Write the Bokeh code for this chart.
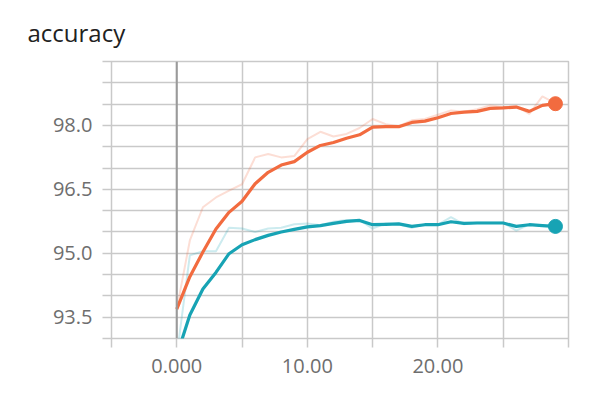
from bokeh.plotting import figure
from bokeh.models import FixedTicker, Span, Range1d
from bokeh.embed import file_html
from bokeh.resources import INLINE

# ---- data ----
steps = list(range(30))
orange_smooth = [93.69, 94.45, 95.03, 95.57, 95.96, 96.22, 96.63, 96.90, 97.07, 97.15,
                 97.37, 97.53, 97.60, 97.70, 97.78, 97.96, 97.97, 97.97, 98.07, 98.10,
                 98.18, 98.28, 98.31, 98.33, 98.40, 98.41, 98.43, 98.33, 98.47, 98.51]
orange_raw = [93.69, 95.30, 96.08, 96.31, 96.47, 96.62, 97.25, 97.33, 97.25, 97.28,
              97.68, 97.85, 97.74, 97.80, 97.94, 98.15, 98.03, 97.98, 98.12, 98.15,
              98.25, 98.35, 98.32, 98.38, 98.47, 98.43, 98.45, 98.27, 98.68, 98.52]
teal_smooth = [92.60, 93.55, 94.16, 94.55, 94.99, 95.20, 95.32, 95.42, 95.50, 95.56,
               95.62, 95.65, 95.70, 95.75, 95.77, 95.67, 95.68, 95.69, 95.63, 95.67,
               95.67, 95.74, 95.70, 95.71, 95.71, 95.71, 95.63, 95.67, 95.65, 95.63]
teal_raw = [92.60, 94.95, 95.05, 95.05, 95.60, 95.58, 95.50, 95.58, 95.60, 95.68,
            95.70, 95.66, 95.74, 95.78, 95.78, 95.58, 95.70, 95.68, 95.60, 95.68,
            95.67, 95.85, 95.68, 95.72, 95.72, 95.72, 95.53, 95.68, 95.64, 95.62]

x_ticks = [-5, 0, 5, 10, 15, 20, 25, 30]
x_label_ticks = [0, 10, 20]
x_tick_labels = ["0.000", "10.00", "20.00"]
y_ticks = [93.0, 93.5, 94.0, 94.5, 95.0, 95.5, 96.0, 96.5, 97.0, 97.5, 98.0, 98.5, 99.0, 99.5]
y_label_ticks = [93.5, 95.0, 96.5, 98.0]
y_tick_labels = ["93.5", "95.0", "96.5", "98.0"]
title_text = "accuracy"

ORANGE = "#f26b3f"
TEAL = "#17a3b4"
GRID = "#c9c9c9"
FONT = "Open Sans"

p = figure(width=598, height=388, x_range=Range1d(-5, 30), y_range=Range1d(93.0, 99.5),
           output_backend="svg", toolbar_location=None,
           min_border_left=111, min_border_right=30, min_border_top=61, min_border_bottom=50)
p.frame_width = 457
p.frame_height = 277

p.title.text = title_text
p.title.text_font = FONT
p.title.text_font_size = "24px"
p.title.text_font_style = "normal"
p.title.text_color = "#212121"
p.title.align = "left"
p.title.offset = -84
p.title.standoff = 26

p.outline_line_color = GRID
p.outline_line_width = 1.5
p.background_fill_color = "white"
p.border_fill_color = "white"

p.xaxis.ticker = FixedTicker(ticks=x_ticks)
p.yaxis.ticker = FixedTicker(ticks=y_ticks)
p.xaxis.major_label_overrides = {t: (x_tick_labels[x_label_ticks.index(t)] if t in x_label_ticks else "") for t in x_ticks}
p.yaxis.major_label_overrides = {t: (y_tick_labels[y_label_ticks.index(t)] if t in y_label_ticks else "") for t in y_ticks}

for ax in (p.xaxis, p.yaxis):
    ax.axis_line_color = None
    ax.major_tick_line_color = GRID
    ax.major_tick_line_width = 1.5
    ax.major_tick_in = 0
    ax.major_tick_out = 9
    ax.minor_tick_line_color = None
    ax.major_label_text_font = FONT
    ax.major_label_text_font_size = "20px"
    ax.major_label_text_color = "#6e6e6e"
p.yaxis.major_label_standoff = 10
p.xaxis.major_label_standoff = 11

p.xgrid.ticker = FixedTicker(ticks=x_ticks)
p.ygrid.ticker = FixedTicker(ticks=y_ticks)
p.grid.grid_line_color = GRID
p.grid.grid_line_width = 1.5

p.add_layout(Span(location=0, dimension="height", line_color="#9a9a9a", line_width=2))

p.line(steps, orange_raw, line_color=ORANGE, line_alpha=0.22, line_width=2)
p.line(steps, teal_raw, line_color=TEAL, line_alpha=0.22, line_width=2)
p.line(steps, orange_smooth, line_color=ORANGE, line_width=3.2)
p.line(steps, teal_smooth, line_color=TEAL, line_width=3.2)
p.scatter([steps[-1]], [orange_smooth[-1]], size=14, color=ORANGE)
p.scatter([steps[-1]], [teal_smooth[-1]], size=14, color=TEAL)

open("out.html", "w").write(file_html(p, INLINE))
